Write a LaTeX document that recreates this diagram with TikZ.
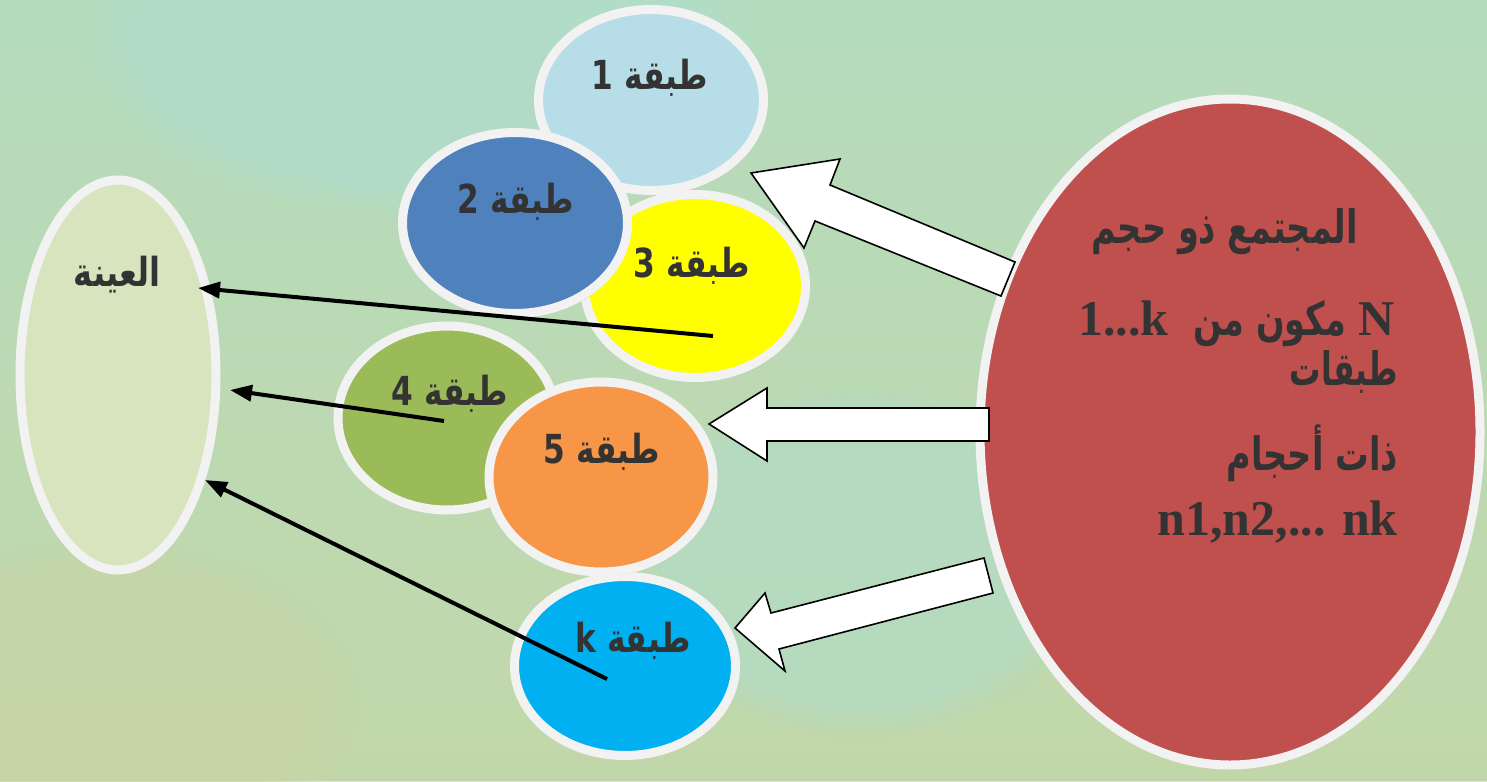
\documentclass[tikz,border=0pt]{standalone}
\usepackage{fontspec}
\usepackage{graphicx}
\setmainfont{Liberation Serif}
\newfontfamily\arabicfont[Script=Arabic]{DejaVu Sans}
\TeXXeTstate=1
\usetikzlibrary{shapes.geometric,shadows,arrows.meta,fadings}
\definecolor{bgA}{HTML}{BCDCB0}
\definecolor{bgB}{HTML}{B0DCCA}
\definecolor{bgC}{HTML}{C8D4A4}
\definecolor{ring}{HTML}{F2F2F2}
\definecolor{shadowc}{HTML}{9C7A55}
\definecolor{txt}{HTML}{333333}
\definecolor{cA}{HTML}{B7DDE8}
\definecolor{cB}{HTML}{4F81BD}
\definecolor{cC}{HTML}{FFFF00}
\definecolor{cD}{HTML}{9BBB59}
\definecolor{cE}{HTML}{F79646}
\definecolor{cK}{HTML}{00B0F0}
\definecolor{cS}{HTML}{D7E4BD}
\definecolor{cP}{HTML}{C0504D}
\newcommand{\narrowtxt}[2]{\scalebox{#1}[1]{#2}}
\begin{document}
\begin{tikzpicture}[x=1pt,y=-1pt,
  blob/.style={ellipse, draw=ring, line width=9pt, inner sep=0pt,
    drop shadow={shadow xshift=2pt, shadow yshift=-4pt, fill=shadowc, opacity=0.7}},
  lbl/.style={anchor=base, inner sep=0pt, text=txt, font=\arabicfont\bfseries\fontsize{40}{48}\selectfont},
  ptxt/.style={anchor=base east, inner sep=0pt, text=txt, font=\bfseries\fontsize{50}{60}\selectfont},
  link/.style={line width=4pt, black, -{Triangle[length=22pt,width=16pt]}},
  bigarrow/.style={draw=black, line width=1.6pt, fill=white, line join=miter},
  glow/.style={path fading=circle with fuzzy edge 20 percent}
]
\useasboundingbox (0,0) rectangle (1487,781);
% background
\fill[bgA] (0,0) rectangle (1487,781);
\shade[top color=bgB, bottom color=bgC, opacity=0.55] (0,0) rectangle (1487,781);
\fill[bgB, glow, opacity=0.8] (420,40) ellipse (340pt and 180pt);
\fill[bgB, glow, opacity=0.6] (860,560) ellipse (240pt and 180pt);
\fill[bgC, glow, opacity=0.6] (100,700) ellipse (260pt and 160pt);

% sample
\node[blob, fill=cS, minimum width=196pt, minimum height=390pt] (sample) at (118,375) {};
\node[lbl] (tS) at (117,286) {\narrowtxt{0.8}{\arabicfont\beginR العينة\endR}};

% strata
\node[blob, fill=cA, minimum width=225pt, minimum height=181pt] (s1) at (651,100) {};
\node[blob, fill=cC, minimum width=221pt, minimum height=183pt] (s3) at (695,286) {};
\node[blob, fill=cB, minimum width=225pt, minimum height=181pt] (s2) at (515,223) {};
\node[blob, fill=cD, minimum width=218pt, minimum height=184pt] (s4) at (447,418) {};
\node[blob, fill=cK, minimum width=221pt, minimum height=179pt] (sk) at (625,666) {};
\node[blob, fill=cE, minimum width=224pt, minimum height=190pt] (s5) at (601,477) {};

\node[lbl] (t1) at (650,90) {\narrowtxt{0.78}{\beginR طبقة 1\endR}};
\node[lbl] (t2) at (516,213) {\narrowtxt{0.78}{\beginR طبقة 2\endR}};
\node[lbl] (t3) at (692,277) {\narrowtxt{0.78}{\beginR طبقة 3\endR}};
\node[lbl] (t4) at (450,405) {\narrowtxt{0.78}{\beginR طبقة 4\endR}};
\node[lbl] (t5) at (602,463) {\narrowtxt{0.78}{\beginR طبقة 5\endR}};
\node[lbl] (tk) at (633,652) {\narrowtxt{0.78}{\beginR طبقة \beginL k\endL\endR}};

% population
\node[blob, fill=cP, minimum width=500pt, minimum height=666pt] (pop) at (1230,432) {};
\node[ptxt] (p1) at (1358,243) {\narrowtxt{0.73}{\arabicfont\fontsize{46}{52}\selectfont\beginR المجتمع ذو حجم\endR}};
\node[ptxt] (p2) at (1395,335) {1...k\ \ \narrowtxt{0.73}{\arabicfont\fontsize{46}{52}\selectfont\beginR مكون من\endR}\ N};
\node[ptxt] (p3) at (1398,385) {\narrowtxt{0.68}{\arabicfont\fontsize{46}{52}\selectfont\beginR طبقات\endR}};
\node[ptxt] (p4) at (1398,470) {\narrowtxt{0.73}{\arabicfont\fontsize{46}{52}\selectfont\beginR ذات أحجام\endR}};
\node[ptxt] (p5) at (1398,535) {n1,n2,... nk};

% block arrows from population to strata
\draw[bigarrow] (1015,262) -- (830,185) -- (840,159) -- (751,173) -- (804,248) -- (815,221) -- (1001,296) -- cycle;
\draw[bigarrow] (989,408) -- (767,408) -- (767,388) -- (709,424) -- (767,461) -- (767,441) -- (989,441) -- cycle;
\draw[bigarrow] (984,558) -- (771,613) -- (765,593) -- (735,628) -- (785,671) -- (779,649) -- (993,593) -- cycle;

% links from strata to sample
\coordinate (f3) at (713,336);
\coordinate (f4) at (444,421);
\coordinate (fk) at (607,679);
\coordinate (h3) at (198,288);
\coordinate (h4) at (230,390);
\coordinate (hk) at (205,480);
\draw[link] (f3) -- (h3);
\draw[link] (f4) -- (h4);
\draw[link] (fk) -- (hk);
\end{tikzpicture}
\end{document}
